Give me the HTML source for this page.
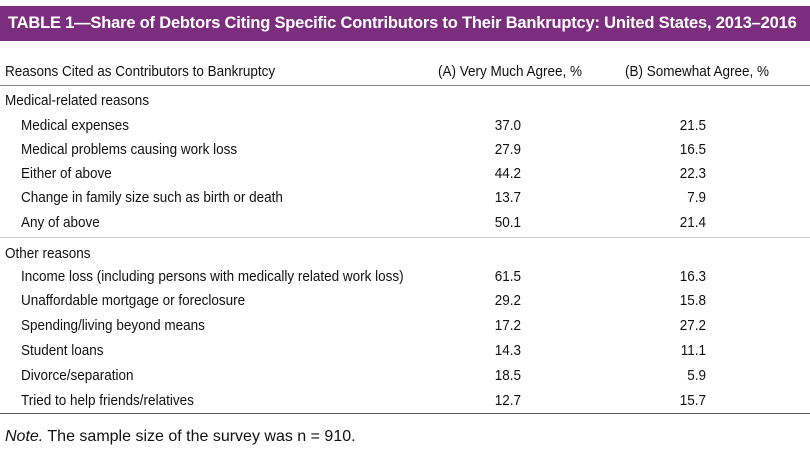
<!DOCTYPE html>
<html><head><meta charset="utf-8">
<style>
body{margin:0;width:810px;height:452px;background:#fff;position:relative;overflow:hidden;font-family:"Liberation Sans",sans-serif;color:#111;}
.t{position:absolute;white-space:nowrap;font-size:15px;line-height:16px;transform:scaleX(0.9);transform-origin:left center;}
.r{text-align:right;transform-origin:right center;}
#bar{position:absolute;left:0;top:6px;width:810px;height:35px;background:#7b2d7e;}
#title{position:absolute;left:8px;top:8px;color:#fff;font-family:"Liberation Sans",sans-serif;font-weight:bold;font-size:16.5px;white-space:nowrap;letter-spacing:-0.2px;}
.ln{position:absolute;left:0;width:810px;}
</style></head>
<body>
<div id="bar"><div id="title">TABLE 1—Share of Debtors Citing Specific Contributors to Their Bankruptcy: United States, 2013–2016</div></div>
<div class="t" style="left:5px;top:64px">Reasons Cited as Contributors to Bankruptcy</div>
<div class="t" style="left:438px;top:64px">(A) Very Much Agree, %</div>
<div class="t" style="left:625px;top:64px">(B) Somewhat Agree, %</div>
<div class="ln" style="top:85px;border-top:1px solid #888"></div>
<div class="ln" style="top:237px;border-top:1px solid #ccc"></div>
<div class="ln" style="top:413px;border-top:1px solid #555"></div>
<div class="t" style="left:5px;top:93px">Medical-related reasons</div>
<div class="t" style="left:5px;top:246px">Other reasons</div>
<div class="t" style="left:5px;top:429px;font-size:16px;transform:none"><i>Note.</i> The sample size of the survey was n = 910.</div>
<div id="rows"></div>
<script>
const labels=["Medical expenses","Medical problems causing work loss","Either of above","Change in family size such as birth or death","Any of above","Income loss (including persons with medically related work loss)","Unaffordable mortgage or foreclosure","Spending/living beyond means","Student loans","Divorce/separation","Tried to help friends/relatives"];
const colA=[37.0,27.9,44.2,13.7,50.1,61.5,29.2,17.2,14.3,18.5,12.7];
const colB=[21.5,16.5,22.3,7.9,21.4,16.3,15.8,27.2,11.1,5.9,15.7];
const rowTops=[118,142,166,190,215,269,293,318,343,368,393];
const root=document.getElementById('rows');
labels.forEach((lab,i)=>{
  const y=rowTops[i];
  const a=document.createElement('div');a.className='t';a.style.left='21px';a.style.top=y+'px';a.textContent=lab;
  
  
  root.appendChild(a);
  const b=document.createElement('div');b.className='t r';b.style.left='461px';b.style.width='60px';b.style.top=y+'px';b.textContent=colA[i].toFixed(1);
  
  
  root.appendChild(b);
  const c=document.createElement('div');c.className='t r';c.style.left='646px';c.style.width='60px';c.style.top=y+'px';c.textContent=colB[i].toFixed(1);
  
  
  root.appendChild(c);
});
</script>
</body></html>
